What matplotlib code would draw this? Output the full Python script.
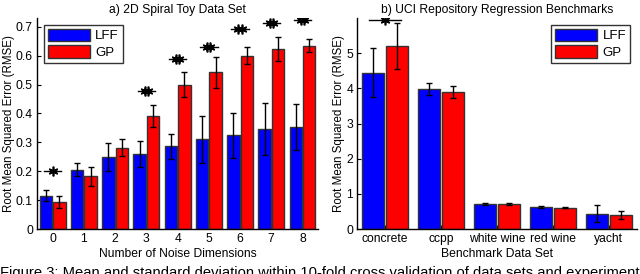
import numpy as np
import matplotlib
matplotlib.use("Agg")
import matplotlib.pyplot as plt
from matplotlib.patches import Patch

plt.rcParams['font.family'] = ['Liberation Sans', 'DejaVu Sans']
plt.rcParams['font.size'] = 8.7

# --- a) toy data ---
noise_dims = [0, 1, 2, 3, 4, 5, 6, 7, 8]
toy_lff = [0.116, 0.206, 0.249, 0.260, 0.286, 0.311, 0.324, 0.345, 0.354]
toy_lff_err = [0.018, 0.022, 0.048, 0.046, 0.042, 0.081, 0.078, 0.090, 0.080]
toy_gp = [0.094, 0.183, 0.282, 0.390, 0.500, 0.542, 0.600, 0.622, 0.634]
toy_gp_err = [0.020, 0.033, 0.030, 0.038, 0.044, 0.055, 0.029, 0.042, 0.022]
# significance markers: index, height, number of stars
toy_sig_idx = [0, 3, 4, 5, 6, 7, 8]
toy_sig_y = [0.202, 0.478, 0.588, 0.631, 0.691, 0.712, 0.723]
toy_sig_n = [1, 2, 2, 2, 2, 2, 2]

# --- b) UCI benchmarks ---
uci_names = ['concrete', 'ccpp', 'white wine', 'red wine', 'yacht']
uci_lff = [4.45, 3.97, 0.71, 0.63, 0.44]
uci_lff_err = [0.70, 0.17, 0.03, 0.02, 0.25]
uci_gp = [5.21, 3.90, 0.71, 0.61, 0.39]
uci_gp_err = [0.65, 0.17, 0.03, 0.02, 0.11]
uci_sig_idx = [0]
uci_sig_y = [5.95]
uci_sig_n = [1]

blue = '#0000ff'
red = '#ff0000'
edge = '#333333'
w = 0.4
off = 0.215
star = (6, 2, 0)  # asterisk marker


def grouped(ax, x, a, ae, b, be):
    x = np.asarray(x, dtype=float)
    ax.bar(x - off, a, w, color=blue, edgecolor=edge, linewidth=1.0, zorder=2)
    ax.bar(x + off, b, w, color=red, edgecolor=edge, linewidth=1.0, zorder=2)
    ax.errorbar(x - off, a, yerr=ae, fmt='none', ecolor='black', elinewidth=1.0,
                capsize=2.5, capthick=1.0, zorder=3)
    ax.errorbar(x + off, b, yerr=be, fmt='none', ecolor='black', elinewidth=1.0,
                capsize=2.5, capthick=1.0, zorder=3)


def sig(ax, idx, ys, ns, dx_star):
    for i, y, n in zip(idx, ys, ns):
        ax.plot([i - 0.28, i + 0.28], [y, y], color='black', lw=1.0, zorder=4)
        if n == 1:
            xs = [i]
        else:
            xs = [i - dx_star, i + dx_star]
        ax.plot(xs, [y] * len(xs), ls='none', marker=star, color='black',
                ms=7, mew=1.2, zorder=5)


def style(ax, loc):
    for s in ['top', 'right']:
        ax.spines[s].set_visible(False)
    for s in ['left', 'bottom']:
        ax.spines[s].set_linewidth(1.0)
    ax.tick_params(direction='in', length=3, width=0.8, pad=3)
    ax.set_ylabel('Root Mean Squared Error (RMSE)', fontsize=8.3, labelpad=1)
    ax.legend(handles=[Patch(facecolor=blue, edgecolor=edge, label='LFF'),
                       Patch(facecolor=red, edgecolor=edge, label='GP')],
              fancybox=False, edgecolor='black', handlelength=3.2, handleheight=1.1,
              handletextpad=0.4, borderpad=0.3, labelspacing=0.2, fontsize=9.5,
              loc=loc, borderaxespad=0.5)


fig = plt.figure(figsize=(6.4, 2.74), dpi=100)
ax1 = fig.add_axes([0.058, 0.164, 0.439, 0.77])
ax2 = fig.add_axes([0.558, 0.164, 0.437, 0.77])

grouped(ax1, noise_dims, toy_lff, toy_lff_err, toy_gp, toy_gp_err)
sig(ax1, toy_sig_idx, toy_sig_y, toy_sig_n, 0.05)
ax1.set_xlim(-0.5, 8.5)
ax1.set_ylim(0, 0.73)
ax1.set_xticks(noise_dims)
ax1.set_yticks(np.arange(0, 0.71, 0.1))
ax1.set_yticklabels(['0', '0.1', '0.2', '0.3', '0.4', '0.5', '0.6', '0.7'])
ax1.set_xlabel('Number of Noise Dimensions', labelpad=2)
ax1.set_title('a) 2D Spiral Toy Data Set', fontsize=8.7, pad=4)
style(ax1, 'upper left')

xu = np.arange(len(uci_names))
grouped(ax2, xu, uci_lff, uci_lff_err, uci_gp, uci_gp_err)
sig(ax2, uci_sig_idx, uci_sig_y, uci_sig_n, 0.05)
ax2.set_xlim(-0.5, 4.5)
ax2.set_ylim(0, 6.0)
ax2.set_xticks(xu)
ax2.set_xticklabels(uci_names)
ax2.set_yticks([0, 1, 2, 3, 4, 5])
ax2.set_xlabel('Benchmark Data Set', labelpad=2)
ax2.set_title('b) UCI Repository Regression Benchmarks', fontsize=8.7, pad=4)
style(ax2, 'upper right')

# caption, cut off by the bottom edge as in the source image
fig.text(0.0, 1 - 266 / 274,
         'Figure 3: Mean and standard deviation within 10-fold cross validation of data sets and experiments',
         fontsize=10.6, va='top', ha='left')

fig.savefig('out.png', dpi=100)
